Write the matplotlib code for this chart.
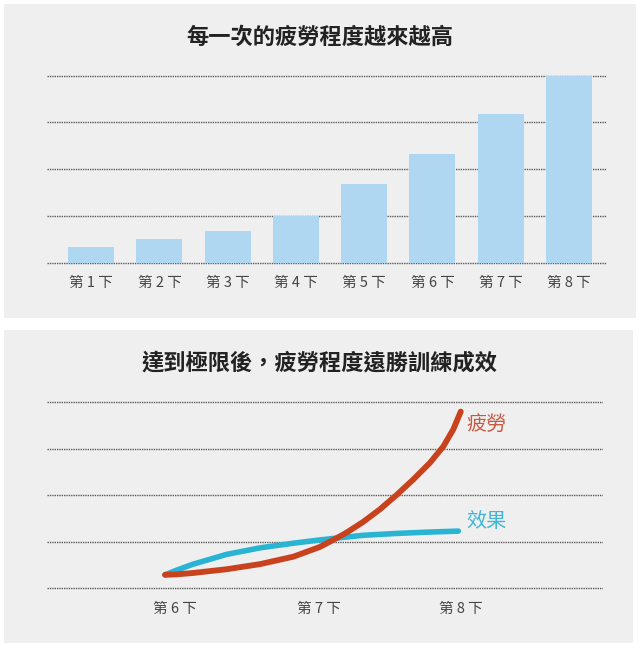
import matplotlib
matplotlib.use("Agg")
import matplotlib.pyplot as plt
from matplotlib.patches import Rectangle

plt.rcParams['font.family'] = ['Noto Sans CJK TC', 'DejaVu Sans']

# ---------------- data ----------------
title_top = "每一次的疲勞程度越來越高"
bar_labels = ["第 1 下", "第 2 下", "第 3 下", "第 4 下", "第 5 下", "第 6 下", "第 7 下", "第 8 下"]
bar_values = [0.33, 0.50, 0.68, 1.00, 1.68, 2.33, 3.18, 4.00]

title_bottom = "達到極限後，疲勞程度遠勝訓練成效"
fatigue_x = [6.0, 6.079, 6.191, 6.417, 6.643, 6.868, 7.048, 7.161, 7.229,
             7.341, 7.454, 7.567, 7.679, 7.792, 7.882, 7.95, 8.0]
fatigue = [0.29, 0.30, 0.33, 0.41, 0.52, 0.68, 0.89, 1.08, 1.20,
           1.43, 1.70, 2.01, 2.34, 2.70, 3.05, 3.42, 3.80]
effect_x = [6.0, 6.079, 6.191, 6.417, 6.643, 6.868, 7.048, 7.161, 7.341,
            7.567, 7.792, 7.984]
effect = [0.29, 0.39, 0.52, 0.73, 0.87, 0.97, 1.04, 1.08, 1.14,
          1.18, 1.21, 1.23]
line_tick_pos = [6.07, 7.04, 8.0]
line_tick_labels = ["第 6 下", "第 7 下", "第 8 下"]
fatigue_label = "疲勞"
effect_label = "效果"
grid_levels = [0, 1, 2, 3, 4]

# ---------------- style ----------------
W, H = 641, 650
panel_bg = "#efefef"
bar_color = "#b0d7f1"
red = "#c9421e"
blue = "#2ab4d4"
grid_color = "#5a5a5a"
tick_color = "#444444"
title_color = "#222222"

fig = plt.figure(figsize=(W / 100, H / 100), dpi=100)
fig.patch.set_facecolor("white")

# panel backgrounds
fig.patches.append(Rectangle((4 / W, 1 - 318 / H), 632 / W, 314 / H,
                             transform=fig.transFigure, facecolor=panel_bg,
                             edgecolor="none", zorder=-10))
fig.patches.append(Rectangle((4 / W, 1 - 643 / H), 629 / W, 313 / H,
                             transform=fig.transFigure, facecolor=panel_bg,
                             edgecolor="none", zorder=-10))


def style_axes(ax):
    ax.set_facecolor("none")
    ax.patch.set_alpha(0)
    for s in ax.spines.values():
        s.set_visible(False)
    ax.set_yticks([])
    ax.tick_params(axis="x", length=0, pad=6.5, labelsize=10.5, labelcolor=tick_color)
    for g in grid_levels:
        ax.axhline(g, color=grid_color, lw=1.0, ls=(0, (1, 0.7)), zorder=1)


# ---------------- top chart ----------------
ax1 = fig.add_axes([46.7 / W, 1 - 267.4 / H, 560.0 / W, 196.4 / H], zorder=5)
style_axes(ax1)
xs = list(range(len(bar_values)))
ax1.bar(xs, bar_values, width=0.674, color=bar_color, zorder=2)
ax1.set_xlim(-0.652, 7.553)
ax1.set_ylim(-0.1, 4.1)
ax1.set_xticks(xs)
ax1.set_xticklabels(bar_labels)

fig.text(319.5 / W, 1 - 37 / H, title_top, ha="center", va="center",
         fontsize=16, color=title_color, fontweight="bold", zorder=6)

# ---------------- bottom chart ----------------
ax2 = fig.add_axes([47.0 / W, 1 - 592.95 / H, 556.0 / W, 195.3 / H], zorder=5)
style_axes(ax2)
ax2.plot(effect_x, effect, color=blue, lw=4.0, solid_capstyle="round",
         solid_joinstyle="round", zorder=3)
ax2.plot(fatigue_x, fatigue, color=red, lw=4.2, solid_capstyle="round",
         solid_joinstyle="round", zorder=4)
ax2.set_xlim(5.202, 8.962)
ax2.set_ylim(-0.1, 4.1)
ax2.set_xticks(line_tick_pos)
ax2.set_xticklabels(line_tick_labels)

ax2.text(8.04, 3.51, fatigue_label, color="#c85a44", fontsize=14.5,
         ha="left", va="center")
ax2.text(8.04, 1.43, effect_label, color="#3fb6d6", fontsize=14.5,
         ha="left", va="center")

fig.text(319 / W, 1 - 363 / H, title_bottom, ha="center", va="center",
         fontsize=16, color=title_color, fontweight="bold", zorder=6)

fig.savefig("out.png", dpi=100, facecolor="white")
